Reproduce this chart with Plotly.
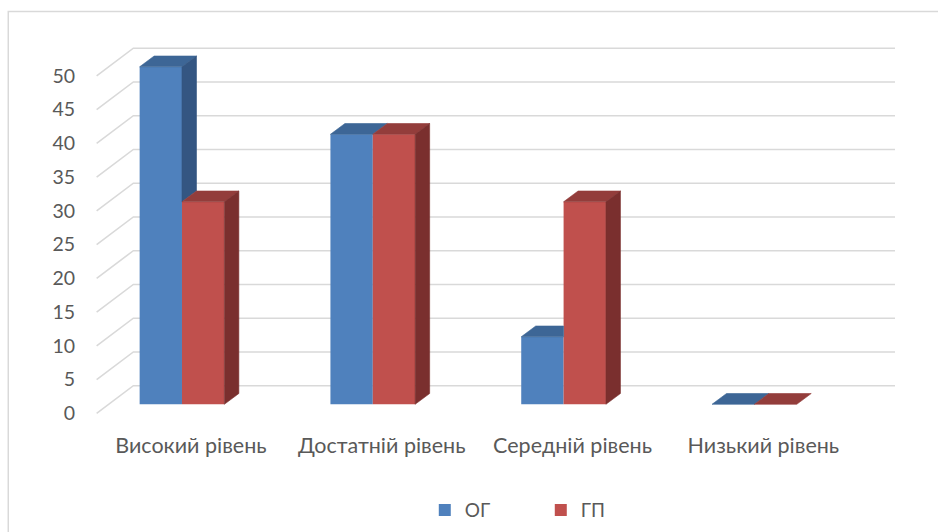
import plotly.graph_objects as go

# ---- data ----
categories = ["Високий рівень", "Достатній рівень", "Середній рівень", "Низький рівень"]
series_names = ["ОГ", "ГП"]
og_values = [50, 40, 10, 0]
gp_values = [30, 40, 30, 0]
y_ticks = [0, 5, 10, 15, 20, 25, 30, 35, 40, 45, 50]

# ---- styling ----
FRONT = ["#4F81BD", "#C0504D"]
TOP = ["#3D6696", "#933D3B"]
SIDE = ["#345682", "#7A2F2E"]
GRID = "#D9D9D9"
TEXT = "#595959"
FONT = "Lato"

# ---- oblique projection (axis units: x = category index, y = value on the bar front plane) ----
BAR_W = 0.222                      # width of one bar
BAR_DX, BAR_DY = 0.076, 1.6        # depth of a bar
WALL_FRONT_DX, WALL_FRONT_DY = -0.0634, -1.333   # front edge of the walls
WALL_BACK_DX, WALL_BACK_DY = 0.129, 2.756        # back wall plane
X_LEFT, X_RIGHT = -0.384, 3.608    # extent of the wall box
LABEL_DX = 0.047                   # category labels sit slightly right of the group centre

X_RANGE = [-0.4507, 3.737]
Y_RANGE = [-2.326, 53.97]

fig = go.Figure()

# front faces of the bars
for s, (name, vals) in enumerate(zip(series_names, [og_values, gp_values])):
    fig.add_trace(go.Bar(
        x=list(range(len(categories))), y=vals, name=name,
        width=BAR_W, offset=-BAR_W if s == 0 else 0,
        marker=dict(color=FRONT[s], line=dict(width=0)),
        hoverinfo="skip",
    ))


def face(xs, ys, color):
    fig.add_trace(go.Scatter(
        x=xs + [xs[0]], y=ys + [ys[0]], mode="lines", fill="toself",
        fillcolor=color, line=dict(color=color, width=0.6),
        showlegend=False, hoverinfo="skip",
    ))


# top and side faces
for i in range(len(categories)):
    b, r = og_values[i], gp_values[i]
    # left bar (ОГ)
    xl, xr = i - BAR_W, i
    if b < r:
        # right part of the top is hidden behind the taller neighbour
        face([xl, xr, xr, xl + BAR_DX], [b, b, b + BAR_DY, b + BAR_DY], TOP[0])
    else:
        face([xl, xr, xr + BAR_DX, xl + BAR_DX], [b, b, b + BAR_DY, b + BAR_DY], TOP[0])
        if b > r:
            face([xr, xr, xr + BAR_DX, xr + BAR_DX], [r, b, b + BAR_DY, r + BAR_DY], SIDE[0])
    # right bar (ГП)
    xl, xr = i, i + BAR_W
    face([xl, xr, xr + BAR_DX, xl + BAR_DX], [r, r, r + BAR_DY, r + BAR_DY], TOP[1])
    if r > 0:
        face([xr, xr, xr + BAR_DX, xr + BAR_DX], [0, r, r + BAR_DY, BAR_DY], SIDE[1])

# gridlines on the back and side walls
shapes = []
for v in y_ticks:
    yb = v + WALL_BACK_DY
    yf = v + WALL_FRONT_DY
    path = (f"M{X_RIGHT + WALL_BACK_DX},{yb} L{X_LEFT + WALL_BACK_DX},{yb} "
            f"L{X_LEFT + WALL_FRONT_DX},{yf}")
    shapes.append(dict(type="path", path=path, xref="x", yref="y", layer="below",
                       line=dict(color=GRID, width=1.6)))

# chart frame
shapes.append(dict(type="rect", xref="paper", yref="paper",
                   x0=-0.1098, y0=-0.33, x1=1.07, y1=1.075,
                   line=dict(color=GRID, width=1.5), layer="below"))

fig.update_layout(
    width=938, height=532,
    margin=dict(l=96, r=43, t=40, b=112, autoexpand=False),
    paper_bgcolor="white", plot_bgcolor="rgba(0,0,0,0)",
    barmode="overlay",
    shapes=shapes,
    font=dict(family=FONT, size=19, color=TEXT),
    xaxis=dict(range=X_RANGE, showgrid=False, zeroline=False, showline=False,
               tickmode="array", tickvals=[i + LABEL_DX for i in range(len(categories))],
               ticktext=categories, ticks="", ticklabelstandoff=10, fixedrange=True,
               tickfont=dict(family=FONT, size=21.5, color=TEXT)),
    yaxis=dict(range=Y_RANGE, showgrid=False, zeroline=False, showline=False,
               tickmode="array", tickvals=[v + WALL_FRONT_DY for v in y_ticks],
               ticktext=[str(v) for v in y_ticks], ticks="", ticklabelstandoff=20,
               fixedrange=True, tickfont=dict(family=FONT, size=19.5, color=TEXT)),
    legend=dict(orientation="h", x=0.4115, xanchor="left",
                yref="container", y=0.041, yanchor="middle",
                entrywidth=71, entrywidthmode="pixels",
                font=dict(family=FONT, size=19, color=TEXT), bgcolor="rgba(0,0,0,0)"),
    showlegend=True,
)

fig.write_html("out.html")
